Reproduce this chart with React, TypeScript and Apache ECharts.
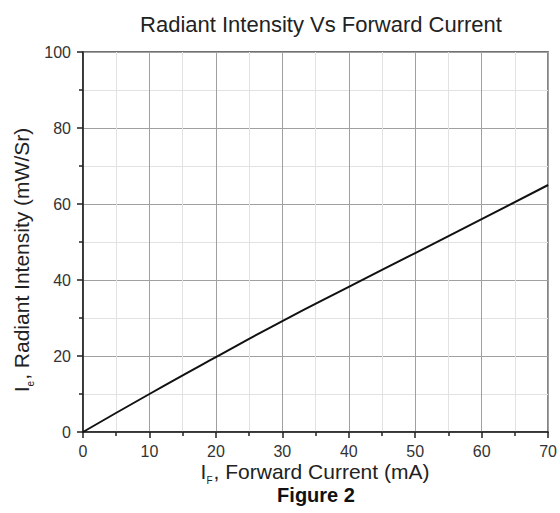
import React, { useEffect, useRef } from "react";
import * as echarts from "echarts";

const currentMA = [0, 10, 20, 30, 40, 50, 60, 70];
const intensity = [0, 10, 19.7, 29.2, 38.2, 47.1, 56, 65];
const titleText = "Radiant Intensity Vs Forward Current";
const xNameMain = "I";
const xNameSub = "F";
const xNameRest = ", Forward Current (mA)";
const yNameMain = "I";
const yNameSub = "e";
const yNameRest = ", Radiant Intensity (mW/Sr)";
const figureText = "Figure 2";

const FONT = "'Liberation Sans', Arial, sans-serif";

const nameRich = {
  n: { fontFamily: FONT, fontSize: 21, fill: "#222", color: "#222", verticalAlign: "top", lineHeight: 24 },
  s: { fontFamily: FONT, fontSize: 10, fill: "#222", color: "#222", verticalAlign: "top", lineHeight: 12, padding: [14, 1, 0, 0] },
};

export default function App() {
  const ref = useRef<HTMLDivElement>(null);
  useEffect(() => {
    if (!ref.current) return;
    const chart = echarts.init(ref.current, undefined, { renderer: "svg" });
    const data = currentMA.map((x, i) => [x, intensity[i]]);
    const axisCommon = {
      axisLine: { show: true, lineStyle: { color: "#222", width: 1.5 } },
      axisTick: { show: true, inside: false, length: 6, lineStyle: { color: "#222", width: 1.5 } },
      minorTick: { show: true, splitNumber: 2, length: 4, lineStyle: { color: "#222", width: 1.5 } },
      splitLine: { show: true, lineStyle: { color: "#a0a0a0", width: 1 } },
      minorSplitLine: { show: true, lineStyle: { color: "#e2e2e2", width: 1 } },
    };
    chart.setOption({
      animation: false,
      backgroundColor: "#ffffff",
      textStyle: { fontFamily: FONT },
      grid: {
        left: 83,
        right: 10,
        top: 52,
        bottom: 81,
        show: true,
        borderColor: "#444",
        borderWidth: 1.5,
        backgroundColor: "transparent",
      },
      xAxis: {
        type: "value",
        min: 0,
        max: 70,
        interval: 10,
        ...axisCommon,
        axisLabel: { fontFamily: FONT, fontSize: 16, color: "#333", margin: 11 },
      },
      yAxis: {
        type: "value",
        min: 0,
        max: 100,
        interval: 20,
        ...axisCommon,
        axisLabel: { fontFamily: FONT, fontSize: 16, color: "#333", margin: 12 },
      },
      graphic: [
        {
          type: "text",
          x: 321,
          y: 24,
          style: {
            text: titleText,
            fontFamily: FONT,
            fontSize: 22,
            fill: "#222",
            align: "center",
            verticalAlign: "middle",
          },
        },
        {
          type: "text",
          x: 315,
          y: 473,
          style: {
            text: `{n|${xNameMain}}{s|${xNameSub}}{n|${xNameRest}}`,
            rich: nameRich,
            align: "center",
            verticalAlign: "middle",
          },
        },
        {
          type: "text",
          x: 23,
          y: 260,
          rotation: Math.PI / 2,
          style: {
            text: `{n|${yNameMain}}{s|${yNameSub}}{n|${yNameRest}}`,
            rich: nameRich,
            align: "center",
            verticalAlign: "middle",
          },
        },
        {
          type: "text",
          x: 316,
          y: 495,
          style: {
            text: figureText,
            fontFamily: FONT,
            fontSize: 20,
            fontWeight: "bold",
            fill: "#111",
            align: "center",
            verticalAlign: "middle",
          },
        },
      ],
      series: [
        {
          type: "line",
          data,
          smooth: true,
          showSymbol: false,
          lineStyle: { color: "#111", width: 2 },
          clip: true,
        },
      ],
    });
    return () => chart.dispose();
  }, []);
  return (
    <div
      ref={ref}
      style={{ position: "absolute", left: 0, top: 0, width: 560, height: 513 }}
    />
  );
}
